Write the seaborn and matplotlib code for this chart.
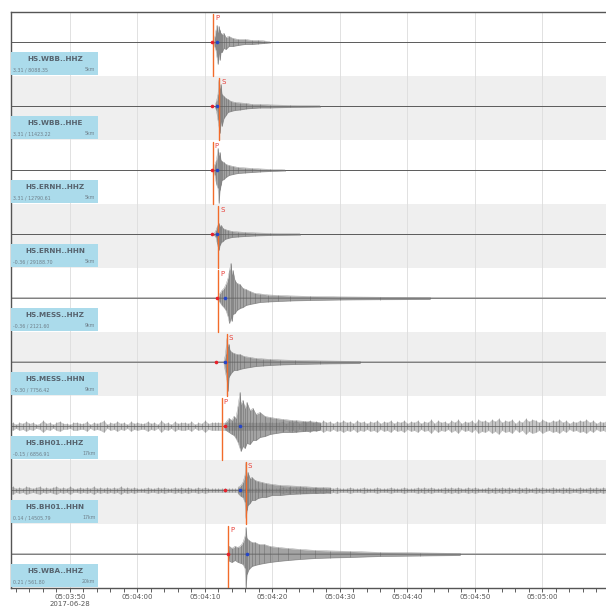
import numpy as np
import pandas as pd
import matplotlib.pyplot as plt
import matplotlib.transforms as mtransforms
from matplotlib.patches import Rectangle
import seaborn as sns

# --- station labels (top to bottom) ---
stations = ["HS.WBB..HHZ", "HS.WBB..HHE", "HS.ERNH..HHZ", "HS.ERNH..HHN",
            "HS.MESS..HHZ", "HS.MESS..HHN", "HS.BH01..HHZ", "HS.BH01..HHN",
            "HS.WBA..HHZ"]
offsets = ["3.31 / 8088.35", "3.31 / 11423.22", "3.31 / 12790.61",
           "-0.36 / 29188.70", "-0.36 / 2121.60", "-0.30 / 7756.42",
           "-0.15 / 6856.91", "0.14 / 14505.79", "0.21 / 561.80"]
distances = ["5km", "5km", "5km", "5km", "9km", "9km", "17km", "17km", "20km"]

# picks, seconds after 05:03:50
phases = ["P", "S", "P", "S", "P", "S", "P", "S", "P"]
phase_t = [21.23, 22.12, 21.14, 21.97, 21.97, 23.21, 22.47, 26.03, 23.45]
red_t = [20.99, 21.04, 21.04, 21.04, 21.73, 21.63, 22.96, 22.96, 23.45]
blue_t = [21.73, 21.73, 21.78, 21.78, 22.96, 22.96, 25.19, 25.19, 26.18]

# background noise half-width (px) for quiet traces
noise_level = [0.5, 0.5, 0.5, 0.5, 1.0, 1.0, 0.0, 0.0, 1.0]

# background noise of the BH01 traces, one digit (px) every 0.5 s from -9 s
bh01_z_noise = ("34243534236342453324" "43352434624353425343" "35342634253443524363"
                "44444444444444444444" "45354635464536453546" "45364535463546354635"
                "46354736453647354637" "56475846573648576475" "465746354657463546")
bh01_n_noise = ("34232432342323423242" "23232423232324232322" "23223232232323223232"
                "22222222222222222222" "23232323322323232322" "23222322232223222322"
                "23232322232323223232" "22323232322323223232" "232232322322323232")

# event envelopes: time (s), upper / lower amplitude (px)
wbb_z_t = [21.26, 21.48, 21.63, 21.78, 21.93, 22.07, 22.22, 22.37, 22.52, 22.81,
           23.11, 23.56, 24.15, 24.89, 25.93, 26.96, 27.85, 28.74, 29.63]
wbb_z_up = [0.5, 6, 12, 17, 10, 16, 12, 9, 8, 9, 5, 6, 4, 3, 3, 2, 2, 1.5, 0.5]
wbb_z_dn = [0.5, 5, 8, 15, 22, 12, 18, 10, 10, 6, 7, 4, 4, 3, 2, 2, 1.5, 1, 0.5]

wbb_e_t = [21.48, 21.70, 21.93, 22.07, 22.22, 22.37, 22.52, 22.81, 23.11, 23.41,
           23.85, 24.44, 25.19, 26.07, 26.96, 28.15, 29.63, 32.59, 37.04]
wbb_e_up = [0.5, 5, 12, 26, 18, 22, 12, 10, 8, 7, 5, 4, 3.5, 3, 2, 2, 1.5, 1, 0.6]
wbb_e_dn = [0.5, 4, 14, 20, 27, 16, 20, 12, 9, 6, 5, 4, 3.5, 2.5, 2, 1.5, 1.5, 1, 0.6]

ernh_z_t = [21.26, 21.48, 21.70, 21.93, 22.07, 22.22, 22.37, 22.52, 22.81, 23.11,
            23.56, 24.15, 24.89, 25.93, 26.96, 28.15, 29.63, 31.85]
ernh_z_up = [0.5, 6, 10, 22, 15, 18, 10, 9, 8, 6, 5, 4, 3, 2.5, 2, 1.5, 1, 0.5]
ernh_z_dn = [0.5, 5, 14, 18, 33, 20, 15, 10, 9, 7, 5, 4, 3, 2.5, 2, 1.5, 1, 0.5]

ernh_n_t = [21.33, 21.63, 21.85, 22.07, 22.22, 22.44, 22.67, 22.96, 23.41, 24.00,
            24.89, 25.93, 27.41, 29.63, 34.07]
ernh_n_up = [0.5, 4, 8, 11, 8, 9, 6, 5, 4, 3, 2.5, 2, 1.5, 1, 0.6]
ernh_n_dn = [0.5, 3, 10, 16, 11, 8, 7, 5, 4, 3, 2.5, 2, 1.5, 1, 0.6]

mess_z_t = [21.93, 22.22, 22.52, 22.81, 23.11, 23.41, 23.63, 23.85, 24.00, 24.15,
            24.44, 24.74, 25.19, 25.63, 26.07, 26.67, 27.41, 28.15, 29.33, 30.81,
            32.59, 35.56, 40.00, 45.93, 53.33]
mess_z_up = [1, 5, 8, 10, 14, 20, 28, 35, 24, 28, 18, 15, 14, 10, 9, 7, 5, 4.5,
             3.5, 3, 2.5, 2, 1.5, 1.2, 1]
mess_z_dn = [1, 4, 7, 9, 12, 18, 25, 20, 23, 16, 15, 12, 10, 9, 7, 6, 5, 4,
             3.5, 3, 2.5, 2, 1.5, 1.2, 1]

mess_n_t = [22.81, 23.04, 23.26, 23.41, 23.56, 23.70, 24.00, 24.30, 24.74, 25.19,
            25.78, 26.67, 27.56, 28.59, 29.63, 31.11, 33.33, 37.04, 42.96]
mess_n_up = [1, 8, 24, 16, 18, 12, 10, 9, 8, 8, 6, 5, 4, 3.5, 3, 2.5, 2, 1.5, 1]
mess_n_dn = [1, 10, 18, 29, 15, 13, 10, 8, 8, 7, 6, 5, 4, 3.5, 3, 2.5, 2, 1.5, 1]

bh01_z_t = [23.11, 23.56, 24.00, 24.30, 24.59, 24.89, 25.19, 25.33, 25.63, 25.93,
            26.22, 26.67, 27.11, 27.56, 28.15, 28.89, 29.63, 30.52, 31.56, 32.89,
            34.81, 37.04]
bh01_z_up = [4, 8, 6, 10, 8, 20, 34, 22, 26, 18, 24, 16, 18, 12, 14, 10, 9, 8, 7, 6, 5, 4]
bh01_z_dn = [4, 6, 8, 9, 12, 16, 22, 25, 20, 22, 17, 18, 14, 14, 11, 10, 8, 7, 6, 6, 5, 4]

bh01_n_t = [24.89, 25.33, 25.63, 25.93, 26.07, 26.22, 26.37, 26.67, 26.96, 27.41,
            27.85, 28.44, 29.04, 29.93, 31.11, 32.59, 34.07, 36.30, 38.52]
bh01_n_up = [3, 5, 8, 15, 28, 14, 18, 12, 13, 10, 9, 8, 7, 6, 5, 4.5, 4, 3, 2.5]
bh01_n_dn = [3, 6, 7, 12, 28, 20, 15, 13, 10, 10, 8, 7, 7, 5, 5, 4, 3.5, 3, 2.5]

wba_z_t = [23.41, 23.63, 24.00, 24.44, 24.89, 25.33, 25.63, 25.93, 26.07, 26.22,
           26.52, 26.96, 27.41, 28.00, 28.74, 29.63, 30.81, 32.30, 34.07, 36.30,
           38.52, 41.48, 45.93, 51.85, 57.78]
wba_z_up = [1, 8, 6, 8, 7, 9, 12, 18, 27, 16, 14, 12, 12, 10, 10, 8, 7, 6, 5, 4,
            3.5, 3, 2, 1.5, 1]
wba_z_dn = [1, 7, 8, 6, 8, 9, 10, 14, 34, 20, 15, 12, 11, 10, 9, 8, 7, 6, 5, 4,
            3.5, 3, 2, 1.5, 1]

events = [(wbb_z_t, wbb_z_up, wbb_z_dn), (wbb_e_t, wbb_e_up, wbb_e_dn),
          (ernh_z_t, ernh_z_up, ernh_z_dn), (ernh_n_t, ernh_n_up, ernh_n_dn),
          (mess_z_t, mess_z_up, mess_z_dn), (mess_n_t, mess_n_up, mess_n_dn),
          (bh01_z_t, bh01_z_up, bh01_z_dn), (bh01_n_t, bh01_n_up, bh01_n_dn),
          (wba_z_t, wba_z_up, wba_z_dn)]
noise_strings = {6: bh01_z_noise, 7: bh01_n_noise}

# time axis
tick_sec = [0, 10, 20, 30, 40, 50, 60, 70]
tick_labels = ["05:03:50\n2017-06-28", "05:04:00", "05:04:10", "05:04:20",
               "05:04:30", "05:04:40", "05:04:50", "05:05:00"]
t_min, t_max = -8.74, 79.41

ROW_PX = 64.0      # pixel height of one trace row
BASE = 0.475       # baseline position inside a row
WAVE = "#7c7c7c"
WAVE_DARK = "#5e5e5e"

sns.set_theme(style="white")
plt.rcParams["font.family"] = ["DejaVu Sans"]

fig = plt.figure(figsize=(6.06, 6.12), dpi=100)
ax = fig.add_axes([11 / 606, 24 / 612, 595 / 606, 576 / 612])
n = len(stations)

# alternating row shading
for i in range(n):
    if i % 2 == 1:
        ax.axhspan(i, i + 1, color="#efefef", lw=0, zorder=0)

for s in tick_sec:
    ax.axvline(s, color="#dcdcdc", lw=0.6, zorder=0.5)

for i in range(n):
    base = i + BASE
    # flat trace line
    ax.plot([t_min, t_max], [base, base], color="#5a5a5a", lw=0.7, zorder=1.5)

    if i in noise_strings:
        amp = np.array([int(c) for c in noise_strings[i]], dtype=float)
        tg = -9 + 0.5 * np.arange(len(amp))
        ax.fill_between(tg, base - amp / ROW_PX, base + amp / ROW_PX,
                        color="#8c8c8c", lw=0, alpha=0.5, zorder=1.7)
        ax.vlines(tg, base - amp / ROW_PX, base + amp / ROW_PX,
                  color=WAVE_DARK, lw=0.4, alpha=0.7, zorder=1.8)
    elif noise_level[i] >= 1:
        ax.fill_between([t_min, t_max], base - noise_level[i] / ROW_PX,
                        base + noise_level[i] / ROW_PX, color="#999999",
                        lw=0, alpha=0.6, zorder=1.6)

    et, up, dn = events[i]
    df = pd.DataFrame({"t": et,
                       "top": base - np.array(up) / ROW_PX,
                       "bot": base + np.array(dn) / ROW_PX})
    ax.fill_between(df["t"], df["top"], df["bot"], color=WAVE, lw=0,
                    alpha=0.7, zorder=2)
    ax.vlines(df["t"], df["top"], df["bot"], color=WAVE_DARK, lw=0.4,
              alpha=0.7, zorder=2.05)
    sns.lineplot(data=df, x="t", y="top", ax=ax, color=WAVE, lw=0.3,
                 alpha=0.8, estimator=None, sort=False, zorder=2.1)
    sns.lineplot(data=df, x="t", y="bot", ax=ax, color=WAVE, lw=0.3,
                 alpha=0.8, estimator=None, sort=False, zorder=2.1)

    # pick line and phase name
    ax.plot([phase_t[i], phase_t[i]], [i + 0.03, i + 1.0], color="#f26b2a",
            lw=1.0, zorder=3)
    ax.text(phase_t[i] + 0.3, i + 0.1, phases[i], color="#e8413c",
            fontsize=5, ha="left", va="center", zorder=3.5)

    ax.plot(red_t[i], base, "o", color="#e8202a", ms=2.6, mec="none", zorder=4)
    ax.plot(blue_t[i], base, "o", color="#2546c8", ms=2.6, mec="none", zorder=4)

# label boxes, x in axes fraction, y in rows
trans = mtransforms.blended_transform_factory(ax.transAxes, ax.transData)
for i in range(n):
    ax.add_patch(Rectangle((0, i + 0.63), 0.146, 0.36, transform=trans,
                           facecolor="#abdbeb", edgecolor="none", zorder=5))
    ax.text(0.074, i + 0.74, stations[i], transform=trans, ha="center",
            va="center", fontsize=5.2, fontweight="bold", color="#56636e", zorder=6)
    ax.text(0.004, i + 0.905, offsets[i], transform=trans, ha="left",
            va="center", fontsize=3.4, color="#6f7f8a", zorder=6)
    ax.text(0.142, i + 0.905, distances[i], transform=trans, ha="right",
            va="center", fontsize=3.4, color="#6f7f8a", zorder=6)

ax.set_xlim(t_min, t_max)
ax.set_ylim(n, 0)
ax.set_yticks([])
ax.set_xticks(tick_sec)
ax.set_xticklabels(tick_labels, fontsize=5, color="#555555", linespacing=1.15)
ax.set_xticks(np.arange(-8, 80, 2), minor=True)
ax.tick_params(axis="x", which="both", direction="out", length=3, width=0.6,
               color="#444444", bottom=True, pad=1.5)
ax.set_xlabel("")
ax.set_ylabel("")

for side in ["left", "top", "bottom"]:
    ax.spines[side].set_color("#555555")
    ax.spines[side].set_linewidth(1.0)
ax.spines["right"].set_visible(False)

fig.savefig("out.png", dpi=100, facecolor="white")
